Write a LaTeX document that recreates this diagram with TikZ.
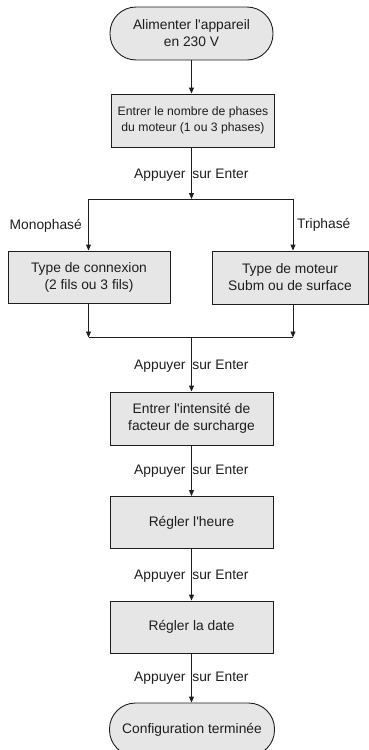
\documentclass[tikz,border=0pt]{standalone}
\usepackage{fontspec}
\setmainfont{Liberation Sans}
\usetikzlibrary{arrows.meta,calc}
\definecolor{boxfill}{RGB}{230,230,230}
\definecolor{ink}{RGB}{30,30,30}
\begin{document}
\begin{tikzpicture}[x=1pt,y=-1pt,
  every node/.style={text=ink},
  base/.style={draw=ink, line width=0.9pt, fill=boxfill, align=center, inner sep=0pt,
     font=\fontsize{13.8}{17}\selectfont},
  procbox/.style={base, rectangle, minimum height=52pt},
  termbox/.style={base, rectangle, rounded corners=26pt, minimum height=53pt},
  conn/.style={draw=ink, line width=0.9pt},
  arr/.style={conn, -{Triangle[length=6pt,width=5pt]}},
  lbl/.style={inner sep=0pt, font=\fontsize{13.8}{17}\selectfont},
]
\useasboundingbox (0,0) rectangle (369,750);

% nodes
\node[termbox, minimum width=163pt] (t1) at (191.5,33.5) {Alimenter l\textquotesingle appareil\\en 230 V};
\node[procbox, minimum width=163pt, minimum height=53pt, font=\fontsize{12.2}{15.5}\selectfont] (b1) at (193,120.5) {Entrer le nombre de phases\\du moteur (1 ou 3 phases)};
\node[procbox, minimum width=162pt] (lb) at (89,277) {Type de connexion\\(2 fils ou 3 fils)};
\node[procbox, minimum width=156pt, minimum height=53pt] (rb) at (290,277.5) {Type de moteur\\Subm ou de surface};
\node[procbox, minimum width=163pt, minimum height=53pt] (b3) at (191.5,418.5) {Entrer l\textquotesingle intensit\'e de\\facteur de surcharge};
\node[procbox, minimum width=163pt] (b4) at (191.5,522.5) {R\'egler l\textquotesingle heure};
\node[procbox, minimum width=163pt] (b5) at (191.5,627) {R\'egler la date};
\node[termbox, minimum width=165pt] (t2) at (192,729.5) {Configuration termin\'ee};

% labels
\node[lbl, anchor=base west] (lab1) at (134,178) {Appuyer\hspace{3pt} sur Enter};
\node[lbl, anchor=base west] (lab2) at (134,369) {Appuyer\hspace{3pt} sur Enter};
\node[lbl, anchor=base west] (lab3) at (134,474) {Appuyer\hspace{3pt} sur Enter};
\node[lbl, anchor=base west] (lab4) at (134,579) {Appuyer\hspace{3pt} sur Enter};
\node[lbl, anchor=base west] (lab5) at (134,681) {Appuyer\hspace{3pt} sur Enter};
\node[lbl, anchor=base east] (mono) at (82,229) {Monophas\'e};
\node[lbl, anchor=base west] (tri) at (297,228) {Triphas\'e};

% junction coordinates
\coordinate (j1) at (191.5,199);
\coordinate (jl) at (88.5,199);
\coordinate (jr) at (293,199);
\coordinate (kl) at (88.5,337.5);
\coordinate (kr) at (293,337.5);
\coordinate (kc) at (191.5,337.5);

% connectors
\draw[arr] (t1.south) -- (t1.south |- b1.north);
\draw[arr] (b1.south -| j1) -- (j1);
\draw[conn] (jl) -- (jr);
\draw[arr] (jl) -- (jl |- lb.north);
\draw[arr] (jr) -- (jr |- rb.north);
\draw[arr] (lb.south -| kl) -- (kl);
\draw[arr] (rb.south -| kr) -- (kr);
\draw[conn] (kl) -- (kr);
\draw[arr] (kc) -- (kc |- b3.north);
\draw[arr] (b3.south) -- (b4.north);
\draw[arr] (b4.south) -- (b5.north);
\draw[arr] (b5.south) -- (t2.north -| b5.south);
\end{tikzpicture}
\end{document}
